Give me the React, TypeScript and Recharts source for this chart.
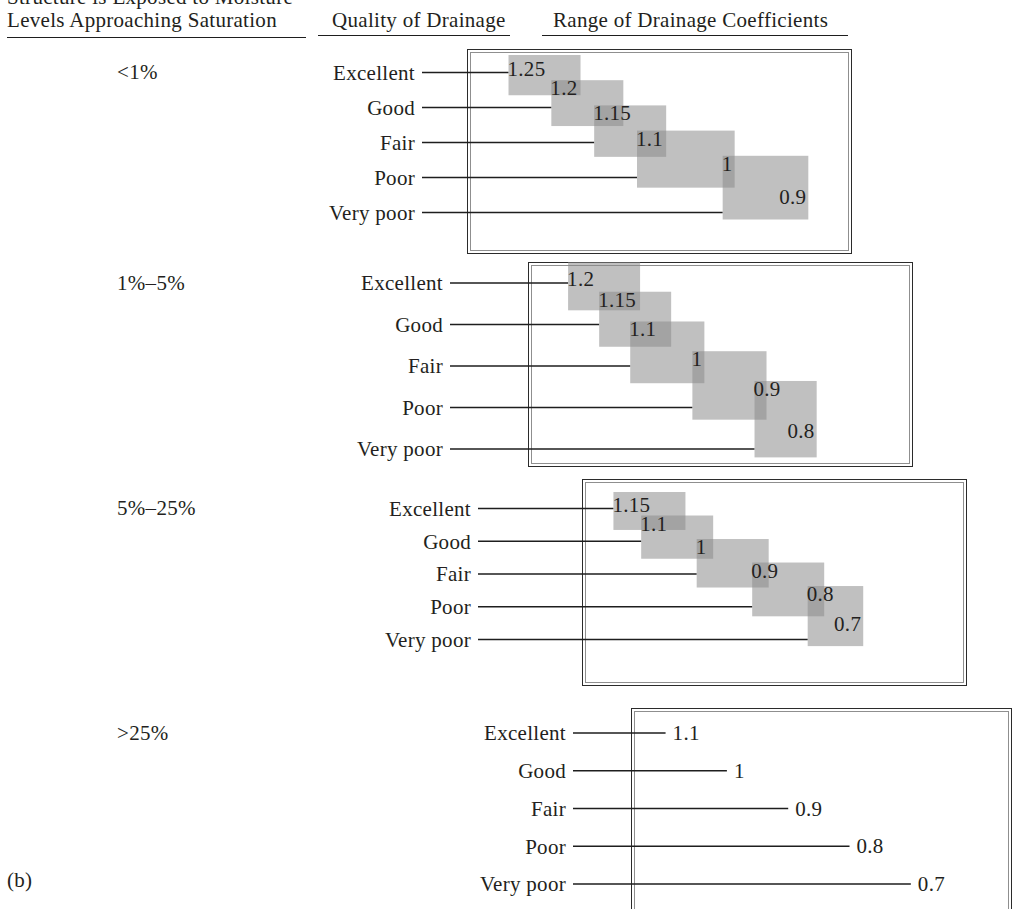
import React from "react"
import { ComposedChart, Bar, XAxis, YAxis } from "recharts"

const qualityLevels = ["Excellent", "Good", "Fair", "Poor", "Very poor"]
const saturationLevels = ["<1%", "1%–5%", "5%–25%", ">25%"]

// range boundaries, best drainage first (row i spans bounds[i] .. bounds[i + 1])
const coefUnder1 = [1.25, 1.2, 1.15, 1.1, 1, 0.9]
const coef1To5 = [1.2, 1.15, 1.1, 1, 0.9, 0.8]
const coef5To25 = [1.15, 1.1, 1, 0.9, 0.8, 0.7]
// single values for the wettest case
const coefOver25 = [1.1, 1, 0.9, 0.8, 0.7]

const headerTop = ["Structure is Exposed to Moisture", "Levels Approaching Saturation"]
const qualityHeader = "Quality of Drainage"
const rangeHeader = "Range of Drainage Coefficients"
const figureTag = "(b)"

const FONT = "'Liberation Serif', 'DejaVu Serif', serif"
const INK = "#231f20"
const LINE = "#1e1e1e"
const PAGE_W = 1014
const PAGE_H = 909
const PAD = 12
const OVERHANG = 12
const MIN_BOX = 72

type Panel = {
  label: string
  bounds?: number[]
  values?: number[]
  firstRow: number
  band: number
  lineStart: number
  plotRight: number
  domain: [number, number]
  frame: { left: number; top: number; width: number; height: number }
}

const panels: Panel[] = [
  { label: saturationLevels[0], bounds: coefUnder1, firstRow: 72, band: 35, lineStart: 422, plotRight: 852, domain: [0.849, 1.351], frame: { left: 467, top: 49, width: 385, height: 205 } },
  { label: saturationLevels[1], bounds: coef1To5, firstRow: 283, band: 41.5, lineStart: 450, plotRight: 913, domain: [0.645, 1.39], frame: { left: 528, top: 262, width: 385, height: 205 } },
  { label: saturationLevels[2], bounds: coef5To25, firstRow: 508, band: 32.75, lineStart: 478, plotRight: 967, domain: [0.513, 1.394], frame: { left: 582, top: 479, width: 385, height: 207 } },
  { label: saturationLevels[3], values: coefOver25, firstRow: 733, band: 37.75, lineStart: 573, plotRight: 1012, domain: [0.535, 1.251], frame: { left: 631, top: 708, width: 381, height: 220 } },
]

const textProps = { fontFamily: FONT, fontSize: 21, fill: INK, letterSpacing: 0.3 }

const rangeShape = (lineStart: number, count: number) => (props: any) => {
  const { x, y, width, height, index, payload } = props
  const left = Math.min(x, x + width)
  const w = Math.abs(width)
  const cy = y + height / 2
  const b = height
  const last = index === count - 1
  // boxes step down and grow like a staircase
  const top = cy - (0.5 + 0.28 * index) * b
  const bottom = cy + Math.max(0.2, 0.65 - 0.12 * index) * b
  const right = left + (last ? w : Math.max(w + OVERHANG, MIN_BOX))
  const [hi, lo] = payload.range
  return (
    <g>
      <line x1={lineStart} x2={left} y1={cy} y2={cy} stroke={LINE} strokeWidth={1.3} />
      <rect x={left} y={top} width={right - left} height={bottom - top} fill="#8a8a8a" fillOpacity={0.54} />
      <text x={left - 1} y={index === 0 ? cy + 3 : top + 15} {...textProps}>{String(hi)}</text>
      {last && (
        <text x={right - 2} y={bottom - 0.25 * (bottom - top)} textAnchor="end" {...textProps}>{String(lo)}</text>
      )}
    </g>
  )
}

const valueShape = (lineStart: number) => (props: any) => {
  const { x, y, width, height, payload } = props
  const end = Math.min(x, x + width)
  const cy = y + height / 2
  return (
    <g>
      <line x1={lineStart} x2={end} y1={cy} y2={cy} stroke={LINE} strokeWidth={1.3} />
      <text x={end + 7} y={cy + 7} {...textProps}>{String(payload.value)}</text>
    </g>
  )
}

function Frame({ f }: { f: Panel["frame"] }) {
  return (
    <div style={{ position: "absolute", left: f.left, top: f.top, width: f.width, height: f.height, border: "1.5px solid #2b2b2b", boxSizing: "border-box" }}>
      <div style={{ position: "absolute", left: 2, top: 2, right: 2, bottom: 2, border: "1px solid #8f8f8f" }} />
    </div>
  )
}

function CoefficientPanel({ panel }: { panel: Panel }) {
  const rows = qualityLevels.map((quality, i) =>
    panel.bounds
      ? { quality, range: [panel.bounds[i], panel.bounds[i + 1]] }
      : { quality, value: panel.values![i] }
  )
  const height = panel.band * rows.length + PAD * 2
  const top = panel.firstRow - panel.band / 2 - PAD
  return (
    <>
      <Frame f={panel.frame} />
      <div style={{ position: "absolute", left: 0, top: panel.firstRow - 12, width: 300, fontFamily: FONT, fontSize: 21, letterSpacing: 0.3, lineHeight: "24px", color: INK }}>
        <span style={{ position: "absolute", left: 117 }}>{panel.label}</span>
      </div>
      <div style={{ position: "absolute", left: 0, top }}>
        <ComposedChart
          width={PAGE_W}
          height={height}
          data={rows}
          layout="vertical"
          barCategoryGap={0}
          margin={{ top: PAD, bottom: PAD, left: 0, right: PAGE_W - panel.plotRight }}
        >
          <XAxis type="number" domain={panel.domain} reversed hide allowDataOverflow />
          <YAxis
            type="category"
            dataKey="quality"
            width={panel.lineStart}
            axisLine={false}
            tickLine={false}
            tickSize={0}
            tickMargin={7}
            interval={0}
            tick={textProps}
          />
          <Bar
            dataKey={panel.bounds ? "range" : "value"}
            isAnimationActive={false}
            shape={panel.bounds ? rangeShape(panel.lineStart, rows.length) : valueShape(panel.lineStart)}
          />
        </ComposedChart>
      </div>
    </>
  )
}

export default function App() {
  const txt: React.CSSProperties = { position: "absolute", fontFamily: FONT, fontSize: 21, letterSpacing: 0.3, lineHeight: "24px", color: INK, whiteSpace: "nowrap" }
  return (
    <div style={{ position: "absolute", left: 0, top: 0, width: PAGE_W, height: PAGE_H, overflow: "hidden", background: "#fff" }}>
      <span style={{ ...txt, left: 7, top: -15 }}>{headerTop[0]}</span>
      <span style={{ ...txt, left: 7, top: 8 }}>{headerTop[1]}</span>
      <span style={{ ...txt, left: 332, top: 8 }}>{qualityHeader}</span>
      <span style={{ ...txt, left: 553, top: 8 }}>{rangeHeader}</span>
      <div style={{ position: "absolute", left: 7, top: 37, width: 299, height: 1.3, background: LINE }} />
      <div style={{ position: "absolute", left: 318, top: 35, width: 192, height: 1.3, background: LINE }} />
      <div style={{ position: "absolute", left: 542, top: 35, width: 306, height: 1.3, background: LINE }} />
      {panels.map((p) => (
        <CoefficientPanel key={p.label} panel={p} />
      ))}
      <span style={{ ...txt, left: 7, top: 868 }}>{figureTag}</span>
    </div>
  )
}
